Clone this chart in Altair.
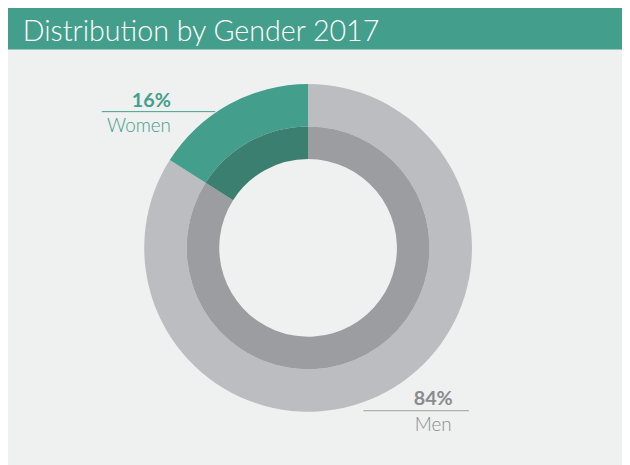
import altair as alt
import pandas as pd

categories = ["Men", "Women"]
values = [84, 16]
labels = ["84%", "16%"]
order = [0, 1]
title_text = "Distribution by Gender 2017"

df = pd.DataFrame({"category": categories, "value": values, "label": labels, "order": order})

W, H = 622, 457
CX, CY = 304, 240

base = alt.Chart(df)

title_bar = alt.Chart(pd.DataFrame({"t": [title_text]})).mark_rect(color="#449e8c").encode(
    x=alt.value(-3), x2=alt.value(W), y=alt.value(-3), y2=alt.value(39)
)
title = alt.Chart(pd.DataFrame({"t": [title_text]})).mark_text(
    align="left", baseline="alphabetic", font="Lato", fontWeight=300, fontSize=29, color="white"
).encode(x=alt.value(15), y=alt.value(30), text="t:N")

color_outer = alt.Color("category:N", scale=alt.Scale(domain=categories, range=["#bcbdc0", "#449e8c"]), legend=None)
color_inner = alt.Color("category:N", scale=alt.Scale(domain=categories, range=["#9c9da0", "#3a7f70"]), legend=None)

outer = base.mark_arc(radius=166, radius2=123).encode(
    theta=alt.Theta("value:Q", stack=True), order=alt.Order("order:Q"), color=color_outer,
    x=alt.value(CX), y=alt.value(CY)
)
inner = base.mark_arc(radius=123, radius2=90).encode(
    theta=alt.Theta("value:Q", stack=True), order=alt.Order("order:Q"), color=color_inner,
    x=alt.value(CX), y=alt.value(CY)
)

women = base.transform_filter(alt.datum.category == "Women")
men = base.transform_filter(alt.datum.category == "Men")

w_pct = women.mark_text(align="right", baseline="alphabetic", font="Lato", fontWeight="bold", fontSize=20, color="#449e8c").encode(
    x=alt.value(165), y=alt.value(97), text="label:N")
w_rule = women.mark_rule(color="#449e8c", strokeWidth=1).encode(
    x=alt.value(95), x2=alt.value(210), y=alt.value(102))
w_name = women.mark_text(align="right", baseline="alphabetic", font="Lato", fontWeight=300, fontSize=19, color="#449e8c").encode(
    x=alt.value(165), y=alt.value(123), text="category:N")

m_pct = men.mark_text(align="left", baseline="alphabetic", font="Lato", fontWeight="bold", fontSize=20, color="#8a8b8e").encode(
    x=alt.value(411), y=alt.value(399), text="label:N")
m_rule = men.mark_rule(color="#9c9da0", strokeWidth=1).encode(
    x=alt.value(360), x2=alt.value(467), y=alt.value(405))
m_name = men.mark_text(align="left", baseline="alphabetic", font="Lato", fontWeight=300, fontSize=19, color="#8a8b8e").encode(
    x=alt.value(412), y=alt.value(426), text="category:N")

chart = alt.layer(title_bar, title, outer, inner, w_pct, w_rule, w_name, m_pct, m_rule, m_name).resolve_scale(
    color="independent"
).properties(
    width=W, height=H, autosize=alt.AutoSizeParams(type="none"), padding=0, background="#eff1f0"
).configure_view(stroke=None)

chart.save("out.html", embed_options={"renderer": "svg", "actions": False})
